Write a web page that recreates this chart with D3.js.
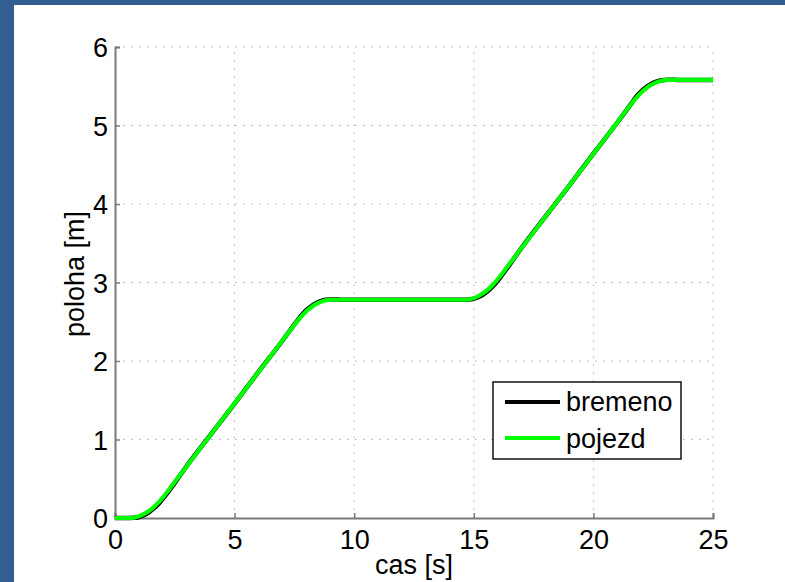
<!DOCTYPE html>
<html><head><meta charset="utf-8">
<script src="https://cdn.jsdelivr.net/npm/d3@7"></script>
<style>
html,body{margin:0;padding:0;background:#335e92;}
svg{display:block;}
text{font-family:"Liberation Sans",Arial,Helvetica,sans-serif;fill:#000;}
</style></head>
<body>
<svg id="c" width="785" height="582"></svg>
<script>
const time = [0,0.6,0.8,1.0,1.2,1.4,1.6,1.8,2.1,2.4,2.7,3,4,5,6,7,7.55,7.8,8.0,8.2,8.4,8.6,8.8,9.05,9.3,9.6,10,12,14,14.6,14.8,15.0,15.2,15.4,15.6,15.8,16.1,16.4,16.7,17,18,19,20,21,21.6,21.8,22.0,22.2,22.4,22.6,22.8,23.1,23.4,23.7,24,25];
const pojezd = [0,0,0.005,0.021,0.048,0.085,0.133,0.192,0.30,0.42,0.54,0.66,1.06,1.46,1.86,2.26,2.48,2.572,2.633,2.684,2.724,2.753,2.772,2.78,2.78,2.78,2.78,2.78,2.78,2.78,2.785,2.801,2.828,2.865,2.913,2.972,3.08,3.20,3.32,3.44,3.84,4.24,4.64,5.04,5.28,5.355,5.419,5.472,5.515,5.547,5.568,5.58,5.58,5.58,5.58,5.58];
const bremeno = [0,0,0.002,0.013,0.036,0.070,0.116,0.174,0.283,0.405,0.535,0.662,1.062,1.458,1.862,2.258,2.485,2.583,2.647,2.698,2.737,2.764,2.779,2.783,2.782,2.780,2.78,2.78,2.78,2.78,2.783,2.795,2.817,2.850,2.896,2.953,3.063,3.185,3.315,3.442,3.842,4.238,4.642,5.038,5.285,5.370,5.434,5.486,5.526,5.556,5.574,5.583,5.582,5.580,5.58,5.58];
const xTicks = [0,5,10,15,20,25];
const yTicks = [0,1,2,3,4,5,6];
const seriesNames = ["bremeno","pojezd"];

const svg = d3.select("#c");
svg.append("rect").attr("x",14).attr("y",5).attr("width",785-14).attr("height",582-5).attr("fill","#fff");

const L=115,R=713,T=47,B=518;
const x = d3.scaleLinear().domain([0,25]).range([L,R]);
const y = d3.scaleLinear().domain([0,6]).range([B,T]);

// grid
const g = svg.append("g");
g.selectAll(".gx").data(xTicks.slice(1)).enter().append("line")
 .attr("x1",d=>x(d)).attr("x2",d=>x(d)).attr("y1",B).attr("y2",T)
 .attr("stroke","#b0b0b0").attr("stroke-width",1).attr("stroke-dasharray","1.5,6.5");
g.selectAll(".gy").data(yTicks.slice(1)).enter().append("line")
 .attr("y1",d=>y(d)).attr("y2",d=>y(d)).attr("x1",L).attr("x2",R)
 .attr("stroke","#b0b0b0").attr("stroke-width",1).attr("stroke-dasharray","1.5,6.5");

// axes
const xa = svg.append("g").attr("transform",`translate(0,${B})`)
 .call(d3.axisBottom(x).tickValues(xTicks).tickSize(-5).tickPadding(12).tickFormat(d3.format("d")));
const ya = svg.append("g").attr("transform",`translate(${L},0)`)
 .call(d3.axisLeft(y).tickValues(yTicks).tickSize(-5).tickPadding(7).tickFormat(d3.format("d")));
[xa,ya].forEach(a=>{
  a.select(".domain").attr("stroke","#7a7a7a").attr("stroke-width",2);
  a.selectAll(".tick line").attr("stroke","#7a7a7a").attr("stroke-width",1.5);
  a.selectAll(".tick text").style("font-size","27px").attr("fill","#000");
});
xa.selectAll(".tick text").attr("dy","0.71em");
ya.selectAll(".tick text").attr("dy","0.36em");

// lines
const pts = s => time.map((t,i)=>[t,s[i]]);
const line = d3.line().x(d=>x(d[0])).y(d=>y(d[1])).curve(d3.curveMonotoneX);
svg.append("path").attr("d",line(pts(bremeno))).attr("fill","none").attr("stroke","#000").attr("stroke-width",4.5).attr("stroke-linejoin","round");
svg.append("path").attr("d",line(pts(pojezd))).attr("fill","none").attr("stroke","#00ff00").attr("stroke-width",4.2).attr("stroke-linejoin","round");

// axis titles
svg.append("text").attr("x",414).attr("y",574).attr("text-anchor","middle").style("font-size","27px").text("cas [s]");
svg.append("text").attr("transform",`translate(84,274) rotate(-90)`).attr("text-anchor","middle").style("font-size","27px").text("poloha [m]");

// legend
const lg = svg.append("g");
lg.append("rect").attr("x",493).attr("y",382).attr("width",188).attr("height",77).attr("fill","#fff").attr("stroke","#000").attr("stroke-width",1.4);
const cols = ["#000","#00ff00"];
seriesNames.forEach((n,i)=>{
  const yy = 402 + i*36;
  lg.append("line").attr("x1",505).attr("x2",560).attr("y1",yy).attr("y2",yy).attr("stroke",cols[i]).attr("stroke-width",4);
  lg.append("text").attr("x",566).attr("y",411 + i*37).style("font-size","27px").text(n);
});
</script>
</body></html>
